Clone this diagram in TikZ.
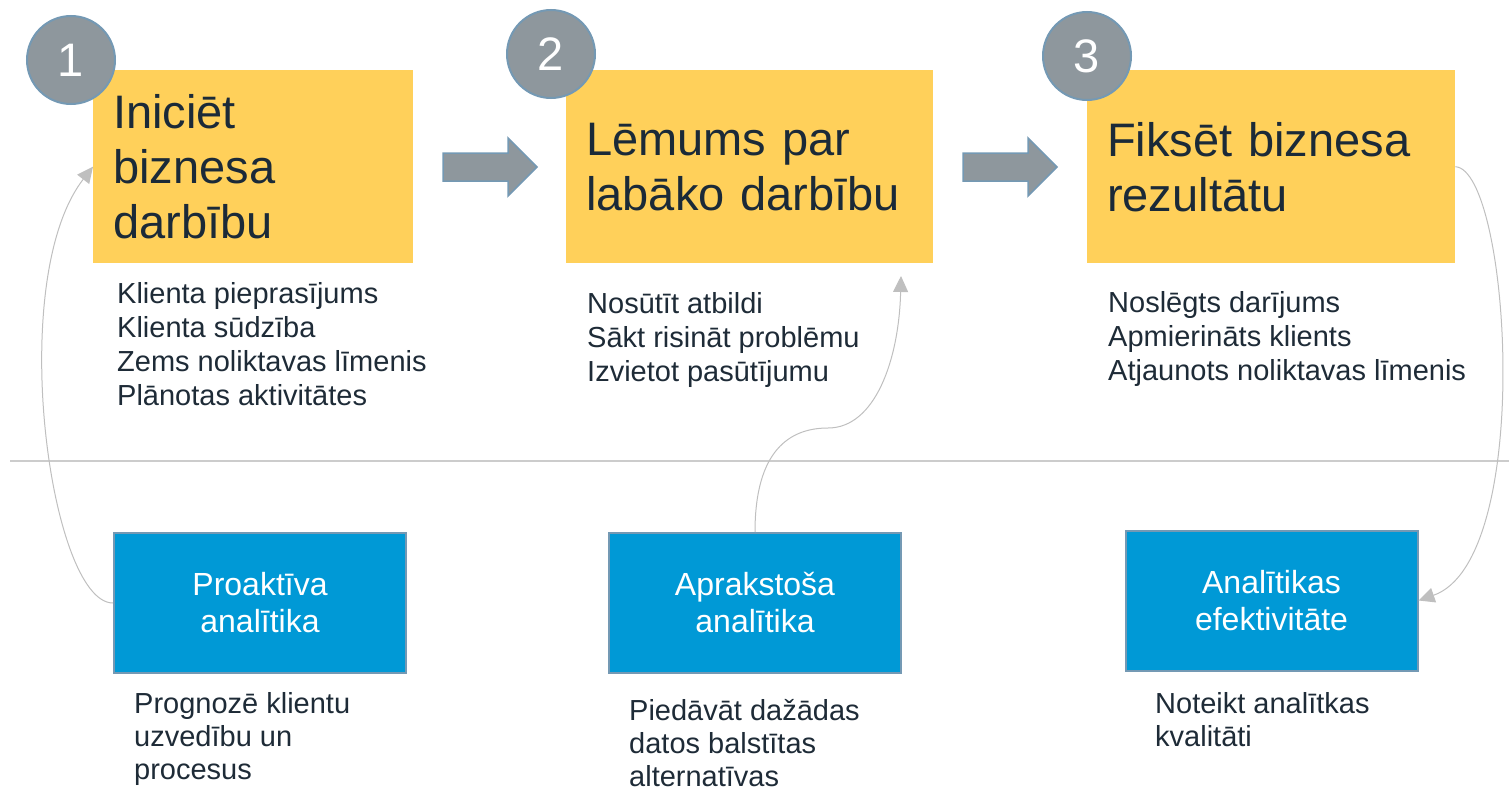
\documentclass[tikz,border=0pt]{standalone}
\usepackage{fontspec}
\setmainfont{Liberation Sans}
\usepackage{tikz}
\usetikzlibrary{arrows.meta,positioning}
\definecolor{stepyellow}{HTML}{FFD05A}
\definecolor{anblue}{HTML}{0099D6}
\definecolor{numgray}{HTML}{8E979D}
\definecolor{edgeblue}{HTML}{7499B4}
\definecolor{curvegray}{HTML}{BFBFBF}
\definecolor{titletext}{HTML}{1B2A38}
\definecolor{bodytext}{HTML}{1E2B37}

\begin{document}
\begin{tikzpicture}[x=1pt,y=-1pt,
  titlebox/.style={fill=stepyellow, anchor=north west, inner xsep=20pt, inner ysep=0pt,
    minimum height=193pt, align=left, text=titletext, font=\fontsize{47}{55}\selectfont},
  stepnum/.style={circle, fill=numgray, draw=edgeblue, line width=2pt, minimum size=88pt,
    inner sep=0pt, text=white, font=\fontsize{47}{55}\selectfont},
  listtext/.style={anchor=north west, inner sep=0pt, align=left, text=bodytext,
    font=\fontsize{29}{34}\selectfont},
  anbox/.style={fill=anblue, draw=edgeblue, line width=2pt, minimum width=292pt,
    minimum height=140pt, align=center, text=white, font=\fontsize{32}{37}\selectfont},
  blockarrow/.style={fill=numgray, draw=edgeblue, line width=1.5pt},
  feedback/.style={draw=curvegray, line width=1pt, -{Triangle[length=16pt,width=15pt]}},
  divider/.style={draw=black!20, line width=2pt}]
  \useasboundingbox (0,0) rectangle (1509,792);

  % top row
  \node[titlebox, text width=280pt] (box1) at (93,70) {Iniciēt\\biznesa\\darbību};
  \node[titlebox, text width=327pt] (box2) at (566,70) {Lēmums par\\labāko darbību};
  \node[titlebox, text width=328pt] (box3) at (1087,70) {Fiksēt biznesa\\rezultātu};
  \node[stepnum] (n1) at (71,60) {1};
  \node[stepnum] (n2) at (551,54) {2};
  \node[stepnum] (n3) at (1087,56) {3};
  \draw[blockarrow] (443,153) -- (508,153) -- (508,138) -- (537,167) -- (508,196) -- (508,181) -- (443,181) -- cycle;
  \draw[blockarrow] (963,153) -- (1028,153) -- (1028,138) -- (1057,167) -- (1028,196) -- (1028,181) -- (963,181) -- cycle;

  \node[listtext] (list1) at (117,282) {Klienta pieprasījums\\Klienta sūdzība\\Zems noliktavas līmenis\\Plānotas aktivitātes};
  \node[listtext] (list2) at (587,292) {Nosūtīt atbildi\\Sākt risināt problēmu\\Izvietot pasūtījumu};
  \node[listtext] (list3) at (1108,291) {Noslēgts darījums\\Apmierināts klients\\Atjaunots noliktavas līmenis};

  \draw[divider] (10,461) -- (1509,461);

  % bottom row
  \node[anbox] (an1) at (260,603) {Proaktīva\\analītika};
  \node[anbox] (an2) at (755,603) {Aprakstoša\\analītika};
  \node[anbox] (an3) at (1271.5,600.5) {Analītikas\\efektivitāte};
  \node[listtext, font=\fontsize{29}{33}\selectfont] (desc1) at (134,692) {Prognozē klientu\\uzvedību un\\procesus};
  \node[listtext, font=\fontsize{29}{33}\selectfont] (desc2) at (629,699) {Piedāvāt dažādas\\datos balstītas\\alternatīvas};
  \node[listtext, font=\fontsize{29}{33}\selectfont] (desc3) at (1155,692) {Noteikt analītkas\\kvalitāti};

  \coordinate (tip2) at (901,276);
  \draw[feedback] (an1.west) .. controls (50,603) and (5,280) .. (box1.west);
  \draw[feedback] (an2.north) .. controls (755,450) and (790,428) .. (828,428)
    .. controls (875,428) and (899,360) .. (tip2);
  \draw[feedback] (box3.east) .. controls (1510,170) and (1535,560) .. (an3.east);
\end{tikzpicture}
\end{document}
